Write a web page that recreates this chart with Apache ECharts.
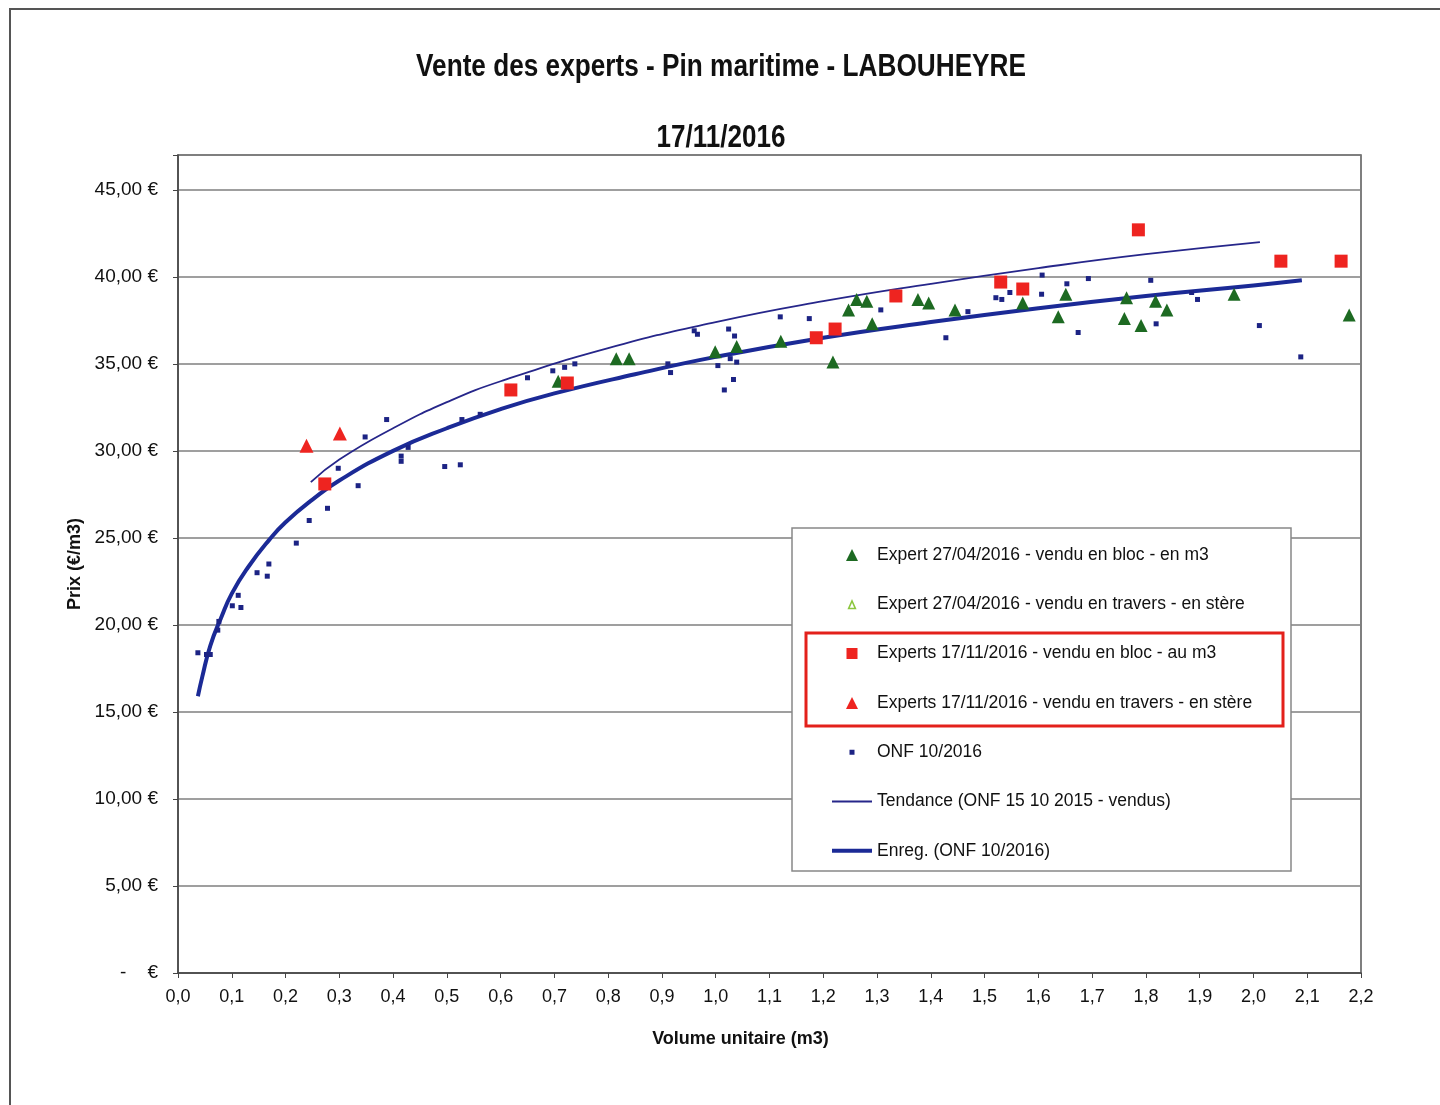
<!DOCTYPE html>
<html>
<head>
<meta charset="utf-8">
<script src="https://cdn.jsdelivr.net/npm/echarts@6/dist/echarts.min.js"></script>
<style>
    html, body { margin: 0; padding: 0; background: #fff; }
    #chart { width: 1440px; height: 1105px; }
</style>
</head>
<body>
<div id="chart"></div>
<script>
// points [volume m3, prix €/m3]
const expertBloc = [
    [0.707, 34.0], [0.815, 35.3], [0.839, 35.3], [0.999, 35.7], [1.039, 36.0], [1.121, 36.3],
    [1.218, 35.1], [1.247, 38.1], [1.262, 38.7], [1.281, 38.6], [1.291, 37.3], [1.376, 38.7],
    [1.396, 38.5], [1.445, 38.1], [1.571, 38.5], [1.637, 37.7], [1.651, 39.0], [1.764, 38.8],
    [1.760, 37.6], [1.791, 37.2], [1.818, 38.6], [1.839, 38.1], [1.964, 39.0], [2.178, 37.8]
]
const expertTravers = []
const expertsBloc = [
    [0.273, 28.1], [0.619, 33.5], [0.724, 33.9], [1.187, 36.5], [1.222, 37.0], [1.335, 38.9],
    [1.530, 39.7], [1.571, 39.3], [1.786, 42.7], [2.051, 40.9], [2.163, 40.9]
]
const expertsTravers = [[0.239, 30.3], [0.301, 31.0]]
const onf = [
    [0.037, 18.4], [0.053, 18.3], [0.060, 18.3], [0.074, 19.7], [0.076, 20.2], [0.101, 21.1],
    [0.112, 21.7], [0.117, 21.0], [0.147, 23.0], [0.166, 22.8], [0.169, 23.5], [0.220, 24.7],
    [0.244, 26.0], [0.278, 26.7], [0.298, 29.0], [0.335, 28.0], [0.348, 30.8], [0.388, 31.8],
    [0.415, 29.7], [0.415, 29.4], [0.428, 30.2], [0.496, 29.1], [0.525, 29.2], [0.528, 31.8],
    [0.562, 32.1], [0.650, 34.2], [0.697, 34.6], [0.719, 34.8], [0.738, 35.0], [0.720, 34.1],
    [0.911, 35.0], [0.916, 34.5], [0.960, 36.9], [0.966, 36.7], [1.004, 34.9], [1.016, 33.5],
    [1.024, 37.0], [1.035, 36.6], [1.027, 35.3], [1.039, 35.1], [1.033, 34.1], [1.120, 37.7],
    [1.174, 37.6], [1.307, 38.1], [1.428, 36.5], [1.469, 38.0], [1.521, 38.8], [1.532, 38.7],
    [1.547, 39.1], [1.607, 40.1], [1.606, 39.0], [1.653, 39.6], [1.674, 36.8], [1.693, 39.9],
    [1.809, 39.8], [1.819, 37.3], [1.885, 39.1], [1.896, 38.7], [2.011, 37.2], [2.088, 35.4]
]
// trend curves
const tendance2015 = [
    [0.247, 28.2], [0.3, 29.5], [0.4, 31.3], [0.5, 32.8], [0.6, 34.0], [0.8, 35.9], [1.0, 37.4],
    [1.2, 38.6], [1.4, 39.6], [1.6, 40.5], [1.8, 41.3], [2.012, 42.0]
]
const enreg2016 = [
    [0.037, 15.9], [0.045, 17.0], [0.06, 18.8], [0.08, 20.4], [0.1, 21.8], [0.13, 23.3],
    [0.17, 24.9], [0.2, 25.9], [0.25, 27.2], [0.3, 28.3], [0.4, 30.0], [0.5, 31.3], [0.6, 32.4],
    [0.7, 33.3], [0.85, 34.4], [1.0, 35.4], [1.2, 36.5], [1.4, 37.4], [1.6, 38.2], [1.8, 38.9],
    [2.0, 39.5], [2.09, 39.8]
]

const names = [
    'Expert 27/04/2016 - vendu en bloc - en m3',
    'Expert 27/04/2016 - vendu en travers - en stère',
    'Experts 17/11/2016 - vendu en bloc - au m3',
    'Experts 17/11/2016 - vendu en travers - en stère',
    'ONF 10/2016',
    'Tendance (ONF 15 10 2015 - vendus)',
    'Enreg. (ONF 10/2016)'
]

const SANS = '"Liberation Sans", Arial, sans-serif'
const green = '#1d6a22'
const lightGreen = '#8cc63f'
const red = '#ee2420'
const navy = '#1c2384'
const thinBlue = '#26268a'
const thickBlue = '#1b2a96'

// legend icons (paths keep their aspect inside the 40x12 icon box)
const icoTriangle = 'path://M0,12L6,0L12,12Z'
const icoEmptyTri = 'path://M-1,-1L-1,-1ZM13,13L13,13ZM2,11L6,2L10,11Z'
const icoSquare = 'path://M-0.5,-0.5L-0.5,-0.5ZM11.5,11.5L11.5,11.5ZM0,0L11,0L11,11L0,11Z'
const icoDot = 'path://M-6,-6L-6,-6ZM6,6L6,6ZM-2.5,-2.5L2.5,-2.5L2.5,2.5L-2.5,2.5Z'
const icoThin = 'path://M0,0L40,0L40,2L0,2Z'
const icoThick = 'path://M0,0L40,0L40,4L0,4Z'

const chart = echarts.init(document.getElementById('chart'))

chart.setOption({
    backgroundColor: '#fff',
    animation: false,
    graphic: [
        {
            type: 'rect', z: 0, silent: true,
            shape: { x: 10, y: 9, width: 1460, height: 1130 },
            style: { fill: 'none', stroke: '#555', lineWidth: 2 }
        },
        {
            type: 'text', z: 5, silent: true, x: 721, y: 67, scaleX: 0.845,
            style: {
                text: 'Vente des experts - Pin maritime - LABOUHEYRE',
                font: 'bold 31px "Liberation Sans", Arial, sans-serif',
                fill: '#111', align: 'center', verticalAlign: 'middle'
            }
        },
        {
            type: 'text', z: 5, silent: true, x: 721, y: 138, scaleX: 0.84,
            style: {
                text: '17/11/2016',
                font: 'bold 31px "Liberation Sans", Arial, sans-serif',
                fill: '#111', align: 'center', verticalAlign: 'middle'
            }
        },
        {
            type: 'rect', z: 3, silent: true,
            shape: { x: 792, y: 528, width: 499, height: 343 },
            style: { fill: '#fff', stroke: '#888', lineWidth: 1.5 }
        },
        {
            type: 'rect', z: 6, silent: true,
            shape: { x: 806, y: 633, width: 477, height: 93 },
            style: { fill: 'none', stroke: '#e3201b', lineWidth: 3 }
        }
    ],
    legend: {
        orient: 'vertical',
        left: 827,
        top: 540,
        itemWidth: 40,
        itemHeight: 12,
        itemGap: 29.3,
        symbolKeepAspect: true,
        z: 5,
        selectedMode: false,
        textStyle: { fontFamily: SANS, fontSize: 17.5, color: '#111', lineHeight: 20 },
        data: [
            { name: names[0], icon: icoTriangle, itemStyle: { color: green } },
            { name: names[1], icon: icoEmptyTri, itemStyle: { color: '#fff', borderColor: lightGreen, borderWidth: 1.5 } },
            { name: names[2], icon: icoSquare, itemStyle: { color: red } },
            { name: names[3], icon: icoTriangle, itemStyle: { color: red } },
            { name: names[4], icon: icoDot, itemStyle: { color: navy } },
            { name: names[5], icon: icoThin, itemStyle: { color: thinBlue } },
            { name: names[6], icon: icoThick, itemStyle: { color: thickBlue } }
        ]
    },
    grid: {
        left: 178, right: 79, top: 155, bottom: 132,
        show: true, borderColor: '#555', borderWidth: 1.5
    },
    xAxis: {
        type: 'value',
        min: 0, max: 2.2, interval: 0.1,
        name: 'Volume unitaire (m3)',
        nameLocation: 'middle',
        nameGap: 57,
        nameTextStyle: { fontFamily: SANS, fontSize: 18, fontWeight: 'bold', color: '#111', padding: [0, 58, 0, 0] },
        axisLine: { show: true, lineStyle: { color: '#444', width: 1.5 } },
        axisTick: { show: true, inside: false, length: 5, lineStyle: { color: '#444' } },
        axisLabel: {
            margin: 15,
            fontFamily: SANS, fontSize: 18, color: '#111',
            formatter: v => v.toFixed(1).replace('.', ',')
        },
        splitLine: { show: false }
    },
    yAxis: {
        type: 'value',
        min: 0, max: 47, interval: 5,
        name: 'Prix (€/m3)',
        nameLocation: 'middle',
        nameGap: 93,
        nameTextStyle: { fontFamily: SANS, fontSize: 18, fontWeight: 'bold', color: '#111' },
        axisLine: { show: true, lineStyle: { color: '#444', width: 1.5 } },
        axisTick: { show: true, length: 5, lineStyle: { color: '#444' } },
        axisLabel: {
            margin: 20,
            fontFamily: SANS, fontSize: 19, color: '#111',
            formatter: v => {
                if (v === 0) return '-    €'
                if (v % 5 !== 0) return ''
                return v.toFixed(2).replace('.', ',') + ' €'
            }
        },
        splitLine: { show: true, lineStyle: { color: '#7f7f7f', width: 1.5 } }
    },
    series: [
        {
            name: names[0], type: 'scatter', data: expertBloc,
            symbol: 'triangle', symbolSize: 13, itemStyle: { color: green, opacity: 1 }, z: 4
        },
        {
            name: names[1], type: 'scatter', data: expertTravers,
            symbol: 'emptyTriangle', symbolSize: 12, itemStyle: { color: lightGreen, opacity: 1 }
        },
        {
            name: names[2], type: 'scatter', data: expertsBloc,
            symbol: 'rect', symbolSize: 13, itemStyle: { color: red, opacity: 1 }, z: 4
        },
        {
            name: names[3], type: 'scatter', data: expertsTravers,
            symbol: 'triangle', symbolSize: 14, itemStyle: { color: red, opacity: 1 }, z: 4
        },
        {
            name: names[4], type: 'scatter', data: onf,
            symbol: 'rect', symbolSize: 5, itemStyle: { color: navy, opacity: 1 }, z: 3
        },
        {
            name: names[5], type: 'line', data: tendance2015,
            smooth: true, symbol: 'none', showSymbol: false,
            lineStyle: { color: thinBlue, width: 1.8 }, itemStyle: { color: thinBlue }, z: 2
        },
        {
            name: names[6], type: 'line', data: enreg2016,
            smooth: true, symbol: 'none', showSymbol: false,
            lineStyle: { color: thickBlue, width: 4 }, itemStyle: { color: thickBlue }, z: 2
        }
    ]
})
</script>
</body>
</html>
